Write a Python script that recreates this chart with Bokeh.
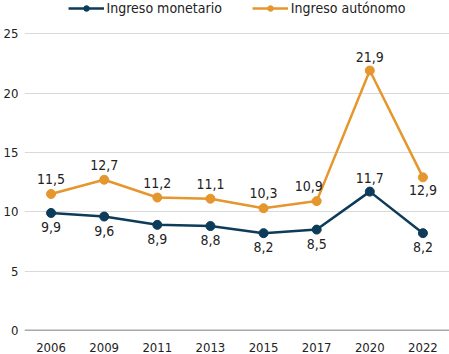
from bokeh.plotting import figure
from bokeh.models import Range1d, Span, Legend, LegendItem, ColumnDataSource, LabelSet, FixedTicker
from bokeh.core.properties import value
from bokeh.embed import file_html
from bokeh.resources import INLINE

years = ["2006", "2009", "2011", "2013", "2015", "2017", "2020", "2022"]
monetario = [9.9, 9.6, 8.9, 8.8, 8.2, 8.5, 11.7, 8.2]
autonomo = [11.5, 12.7, 11.2, 11.1, 10.3, 10.9, 21.9, 12.9]
mon_lbl = ["9,9", "9,6", "8,9", "8,8", "8,2", "8,5", "11,7", "8,2"]
aut_lbl = ["11,5", "12,7", "11,2", "11,1", "10,3", "10,9", "21,9", "12,9"]
mon_off = [-9, -9, -9, -9, -9, -9, 9, -9]
aut_off = [10, 10, 10, 10, 10, 10, 9, -8]
aut_xoff = [0, 0, 0, 0, 0, -8, 0, 0]
mon_base = ["top" if o < 0 else "bottom" for o in mon_off]
aut_base = ["top" if o < 0 else "bottom" for o in aut_off]

BLUE = "#0d3b5a"
ORANGE = "#e5962d"
FONT = "'DejaVu Sans Condensed', 'DejaVu Sans'"

p = figure(width=449, height=354, x_range=years, y_range=Range1d(0, 27.8),
           output_backend="svg", toolbar_location=None,
           min_border_left=0, min_border_right=0, min_border_top=0, min_border_bottom=0)
p.outline_line_color = None
p.background_fill_color = "white"
p.border_fill_color = "white"

p.xgrid.grid_line_color = None
p.ygrid.grid_line_color = "#d9d9d9"
p.ygrid.grid_line_width = 1
p.yaxis.ticker = FixedTicker(ticks=[0, 5, 10, 15, 20, 25])
for ax in (p.xaxis, p.yaxis):
    ax.axis_line_color = None
    ax.major_tick_line_color = None
    ax.minor_tick_line_color = None
    ax.major_label_text_font = FONT
    ax.major_label_text_font_size = "13px"
    ax.major_label_text_color = "#222222"
p.yaxis.major_label_standoff = 0
p.xaxis.major_label_standoff = 6

p.add_layout(Span(location=0, dimension="width", line_color="#555555", line_width=1.5))

src_m = ColumnDataSource(dict(x=years, y=monetario, t=mon_lbl, o=mon_off, b=mon_base,
                              xo=[0] * len(years)))
src_a = ColumnDataSource(dict(x=years, y=autonomo, t=aut_lbl, o=aut_off, b=aut_base,
                              xo=aut_xoff))

lm = p.line("x", "y", source=src_m, line_color=BLUE, line_width=2.5)
cm = p.scatter("x", "y", source=src_m, size=9, fill_color=BLUE, line_color=BLUE)
la = p.line("x", "y", source=src_a, line_color=ORANGE, line_width=2.5)
ca = p.scatter("x", "y", source=src_a, size=9, fill_color=ORANGE, line_color=ORANGE)

for src in (src_m, src_a):
    p.add_layout(LabelSet(x="x", y="y", text="t", source=src, y_offset="o", x_offset="xo",
                          text_baseline="b", text_align="center",
                          text_font=value(FONT), text_font_size=value("14px"),
                          text_color="#222222"))

legend = Legend(items=[LegendItem(label="Ingreso monetario", renderers=[lm, cm]),
                       LegendItem(label="Ingreso autónomo", renderers=[la, ca])],
                orientation="horizontal", location="top_center",
                label_text_font=FONT, label_text_font_size="14px",
                label_text_color="#222222", glyph_width=36, glyph_height=14,
                border_line_color=None, background_fill_alpha=0,
                spacing=30, padding=0, margin=0, label_standoff=3)
p.add_layout(legend)

open("out.html", "w").write(file_html(p, INLINE))
